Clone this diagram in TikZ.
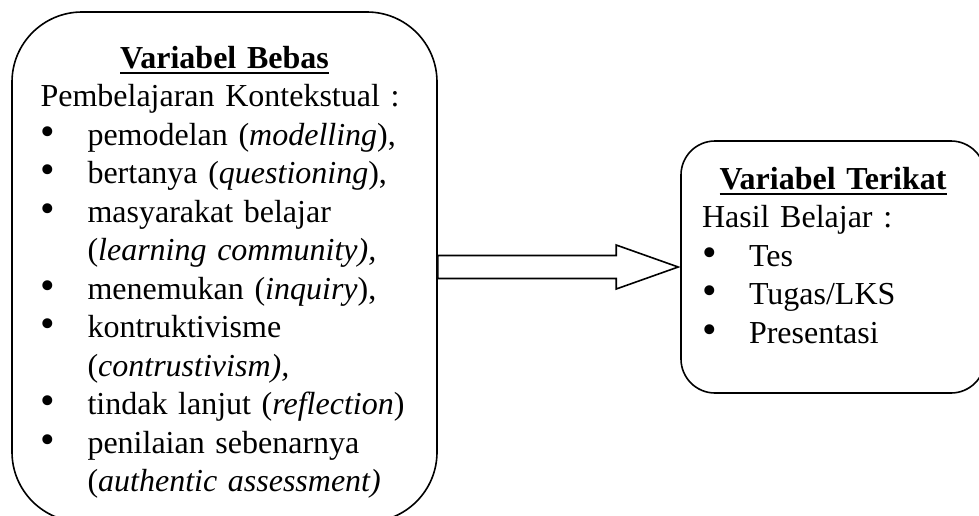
\documentclass[tikz,border=0pt]{standalone}
\usepackage{fontspec}
\setmainfont{Liberation Serif}
\usetikzlibrary{positioning,calc}

\newcommand{\butir}[1]{\makebox[23.5pt][l]{\scalebox{1.3}{\textbullet}}#1}
\newcommand{\lanjut}{\hspace*{23.5pt}}
\newcommand{\judul}[1]{\setbox0\hbox{\textbf{#1}}\rlap{\rule[-3pt]{\wd0}{1.2pt}}\box0}

\begin{document}
\begin{tikzpicture}[x=0.5pt,y=0.5pt,
  kotak/.style={draw,line width=0.8pt,rounded corners=#1},kotak/.default=17pt,
  isi/.style={inner sep=0pt,align=left,font=\fontsize{16}{19.25}\selectfont},
  panah/.style={draw,line width=0.8pt,fill=white}]
  \path[use as bounding box,clip] (0,0) rectangle (979,-515);

  \node[kotak=35pt,minimum width=212.5pt,minimum height=255pt] (bebas) at (224.5,-267) {};
  \node[kotak=17pt,minimum width=152pt,minimum height=126pt] (terikat) at (833,-267) {};

  \node[isi,text width=184pt,below=17.15pt of bebas.north] (teksbebas) {%
    \makebox[\linewidth]{\judul{Variabel Bebas}}\\
    Pembelajaran Kontekstual :\\
    \butir{pemodelan (\textit{modelling}),}\\
    \butir{bertanya (\textit{questioning}),}\\
    \butir{masyarakat belajar}\\
    \lanjut(\textit{learning community),}\\
    \butir{menemukan (\textit{inquiry}),}\\
    \butir{kontruktivisme}\\
    \lanjut(\textit{contrustivism),}\\
    \butir{tindak lanjut (\textit{reflection})}\\
    \butir{penilaian sebenarnya}\\
    \lanjut(\textit{authentic assessment)}};
  \node[isi,text width=131pt,below=13.15pt of terikat.north] (teksterikat) {%
    \makebox[\linewidth]{\judul{Variabel Terikat}}\\
    Hasil Belajar :\\
    \butir{Tes}\\
    \butir{Tugas/LKS}\\
    \butir{Presentasi}};

  % panah blok
  \draw[panah] ($(bebas.east)+(0,11.5)$) -- ($(terikat.west)+(-64,11.5)$)
    -- ($(terikat.west)+(-64,22)$) -- ($(terikat.west)+(-2,0)$)
    -- ($(terikat.west)+(-64,-22)$) -- ($(terikat.west)+(-64,-11.5)$)
    -- ($(bebas.east)+(0,-11.5)$) -- cycle;
\end{tikzpicture}
\end{document}
